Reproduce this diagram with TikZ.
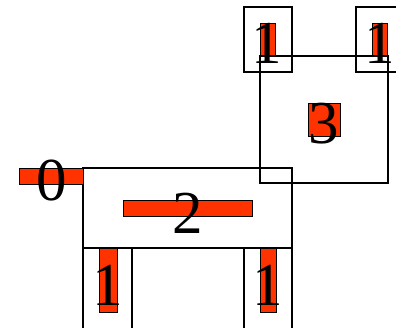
\documentclass[tikz,border=0pt]{standalone}
\usepackage{fontspec}
\setmainfont{Liberation Serif}
\definecolor{redfill}{RGB}{255,51,0}
\tikzset{
  box/.style={draw=black,line width=1.5pt},
  bar/.style={draw=black,line width=1pt,fill=redfill},
  lbl/.style={anchor=base,inner sep=0pt,font=\fontsize{61}{61}\selectfont}
}
\begin{document}
\begin{tikzpicture}[x=1pt,y=-1pt]
\useasboundingbox (0,0) rectangle (396,327);
% boxes
\draw[box] (244,7) rectangle (292,72);
\draw[box] (356,7) rectangle (404,72);
\draw[box] (260,56) rectangle (388,183);
\draw[box] (83,168) rectangle (292,248);
\draw[box] (83,248) rectangle (132,340);
\draw[box] (244,248) rectangle (292,340);
% red bars
\draw[bar] (260,23) rectangle (275,55);
\draw[bar] (372,23) rectangle (387,55);
\draw[bar] (308,103) rectangle (340,136);
\draw[bar] (19,168) rectangle (83,184);
\draw[bar] (123,200) rectangle (252,216);
\draw[bar] (99,248) rectangle (117,312);
\draw[bar] (260,248) rectangle (276,312);
% labels
\node[lbl] (t1a) at (267,63) {1};
\node[lbl] (t1b) at (380,63) {1};
\node[lbl] (t3) at (324,143) {3};
\node[lbl] (t0) at (52,200) {0};
\node[lbl] (t2) at (188,233) {2};
\node[lbl] (t1c) at (108,305) {1};
\node[lbl] (t1d) at (268,305) {1};
\end{tikzpicture}
\end{document}
